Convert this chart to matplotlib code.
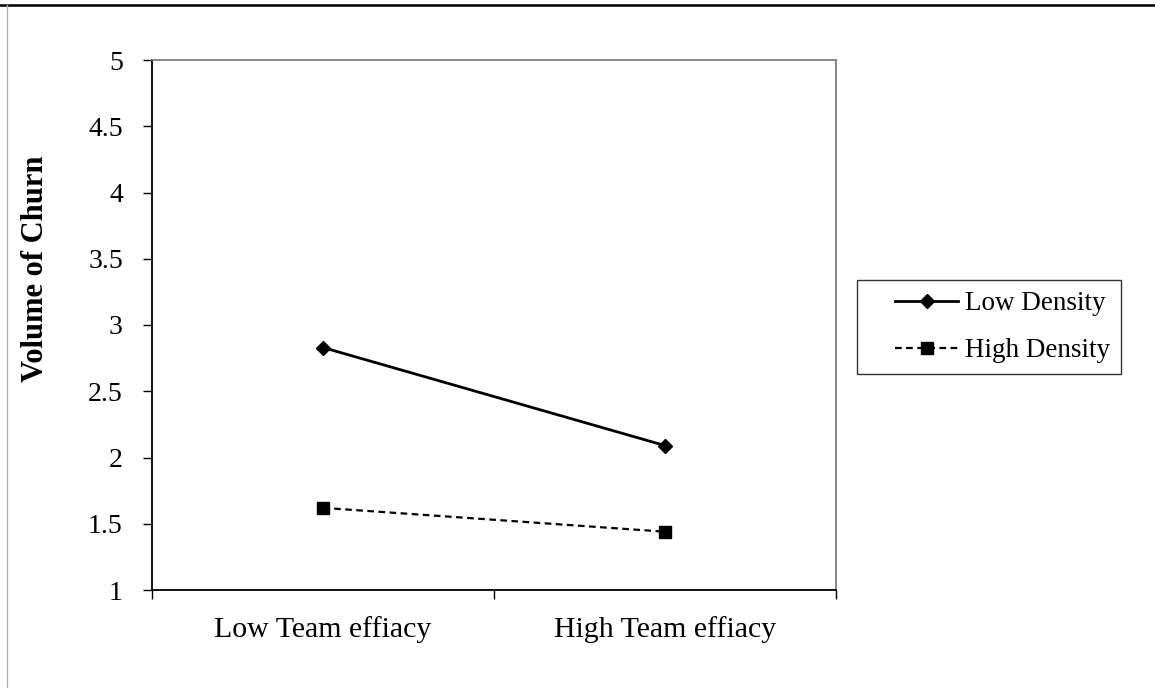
import matplotlib
matplotlib.use("Agg")
import matplotlib.pyplot as plt
from matplotlib.lines import Line2D
from matplotlib.legend_handler import HandlerLine2D

categories = ["Low Team effiacy", "High Team effiacy"]
low_density = [2.83, 2.09]
high_density = [1.62, 1.44]
yticks = [1, 1.5, 2, 2.5, 3, 3.5, 4, 4.5, 5]
ytick_labels = ["1", "1.5", "2", "2.5", "3", "3.5", "4", "4.5", "5"]
series_names = ["Low Density", "High Density"]

plt.rcParams['font.family'] = ['Liberation Serif', 'DejaVu Serif']

fig = plt.figure(figsize=(11.55, 6.88), dpi=100)
W, H = 1155, 688
ax = fig.add_axes([152 / W, 1 - 590 / H, (836 - 152) / W, (590 - 60) / H])

x = list(range(len(categories)))
l1, = ax.plot(x, low_density, color='black', lw=2, marker='D', ms=7.5, label=series_names[0])
l2, = ax.plot(x, high_density, color='black', lw=1.6, ls=(0, (3, 2)), marker='s', ms=8.5,
              label=series_names[1])

ax.set_xlim(-0.5, len(categories) - 0.5)
ax.set_ylim(1, 5)
ax.set_yticks(yticks)
ax.set_yticklabels(ytick_labels, fontsize=20)
ax.set_xticks(x)
ax.set_xticklabels(categories, fontsize=21.5)
ax.tick_params(axis='x', which='major', length=0, pad=19)
ax.set_xticks([i - 0.5 for i in range(len(categories) + 1)], minor=True)
ax.tick_params(axis='x', which='minor', length=6.5, width=1, direction='out')
ax.tick_params(axis='y', length=6.5, width=1, direction='out', pad=14.5)

for s in ['left', 'bottom']:
    ax.spines[s].set_color('black')
    ax.spines[s].set_linewidth(1.3)
for s in ['top', 'right']:
    ax.spines[s].set_color('#808080')
    ax.spines[s].set_linewidth(1.3)

fig.text(36 / W, 1 - 269 / H, "Volume of Churn", rotation=90, fontsize=22,
         fontweight='bold', ha='center', va='center')

hmap = {l1: HandlerLine2D(xpad=1.0), l2: HandlerLine2D(xpad=1.0)}
leg = ax.legend(loc='upper left', bbox_to_anchor=(857 / W, 1 - 280 / H),
                bbox_transform=fig.transFigure, fontsize=19.5, frameon=True,
                fancybox=False, edgecolor='black', handlelength=3.3,
                borderpad=0.42, borderaxespad=0, labelspacing=0.8, handletextpad=0.25,
                handler_map=hmap)
leg.get_frame().set_linewidth(1.0)

fig.add_artist(Line2D([0, 1], [1 - 5 / H, 1 - 5 / H], transform=fig.transFigure,
                      color='black', lw=1.8))
fig.add_artist(Line2D([7 / W, 7 / W], [0, 1 - 5 / H], transform=fig.transFigure,
                      color='#b0b0b0', lw=1))

fig.savefig("out.png", dpi=100)
